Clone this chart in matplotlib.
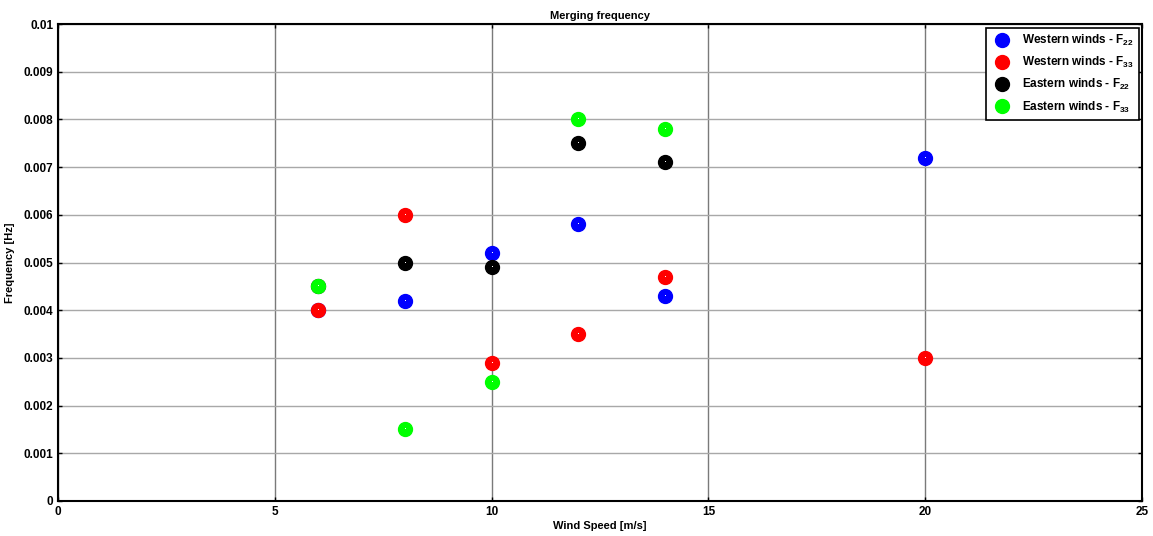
import matplotlib
matplotlib.use('Agg')
import matplotlib.pyplot as plt

plt.rcParams['font.family'] = ['Liberation Sans', 'DejaVu Sans']
plt.rcParams['font.weight'] = 'bold'
plt.rcParams['mathtext.fontset'] = 'custom'
plt.rcParams['mathtext.rm'] = 'Liberation Sans:bold'
plt.rcParams['mathtext.it'] = 'Liberation Sans:bold'
plt.rcParams['mathtext.bf'] = 'Liberation Sans:bold'

# wind speed [m/s] and merging frequency [Hz]
west_f22_speed = [6, 8, 10, 12, 14, 20]
west_f22_freq = [0.0040, 0.0042, 0.0052, 0.0058, 0.0043, 0.0072]

west_f33_speed = [6, 8, 10, 12, 14, 20]
west_f33_freq = [0.0040, 0.0060, 0.0029, 0.0035, 0.0047, 0.0030]

east_f22_speed = [6, 8, 10, 12, 14]
east_f22_freq = [0.0045, 0.0050, 0.0049, 0.0075, 0.0071]

east_f33_speed = [6, 8, 10, 12, 14]
east_f33_freq = [0.0045, 0.0015, 0.0025, 0.0080, 0.0078]

series = [
    (west_f22_speed, west_f22_freq, '#0000ff', r'Western winds - F$_{22}$'),
    (west_f33_speed, west_f33_freq, '#ff0000', r'Western winds - F$_{33}$'),
    (east_f22_speed, east_f22_freq, '#000000', r'Eastern winds - F$_{22}$'),
    (east_f33_speed, east_f33_freq, '#00ff00', r'Eastern winds - F$_{33}$'),
]

fig = plt.figure(figsize=(11.53, 5.36), dpi=100)
ax = fig.add_axes([0.0503, 0.0653, 0.9402, 0.8897])

for xs, ys, col, lab in series:
    ax.plot(xs, ys, linestyle='none', marker='o', markersize=10,
            markerfacecolor=col, markeredgecolor=col, label=lab, zorder=3)
    ax.plot(xs, ys, linestyle='none', marker=',', color='white', zorder=4)

ax.set_xlim(0, 25)
ax.set_ylim(0, 0.01)
ax.set_xticks([0, 5, 10, 15, 20, 25])
ax.set_xticklabels(['0', '5', '10', '15', '20', '25'])
ax.set_yticks([i / 1000 for i in range(11)])
ax.set_yticklabels(['0', '0.001', '0.002', '0.003', '0.004', '0.005',
                    '0.006', '0.007', '0.008', '0.009', '0.01'])

ax.xaxis.grid(True, color='#7a7a7a', linewidth=1.0, zorder=0)
ax.yaxis.grid(True, color='#a8a8a8', linewidth=1.0, zorder=0)
ax.set_axisbelow(True)

ax.tick_params(direction='in', length=3, labelsize=8.5, top=True, right=True,
               width=1)
for lab in ax.get_xticklabels() + ax.get_yticklabels():
    lab.set_fontweight('bold')
for sp in ax.spines.values():
    sp.set_linewidth(1.5)

ax.set_title('Merging frequency', fontsize=8, fontweight='bold', pad=4)
ax.set_xlabel('Wind Speed [m/s]', fontsize=8, fontweight='bold', labelpad=2)
ax.set_ylabel('Frequency [Hz]', fontsize=8, fontweight='bold', labelpad=6)

leg = ax.legend(loc='upper right', fontsize=8.5, fancybox=False, framealpha=1,
                edgecolor='black', handletextpad=0.8, borderpad=0.45,
                labelspacing=0.6, handlelength=1.8, borderaxespad=0.3)
leg.get_frame().set_linewidth(1.2)
for t in leg.get_texts():
    t.set_fontweight('bold')

fig.savefig('out.png', dpi=100)
